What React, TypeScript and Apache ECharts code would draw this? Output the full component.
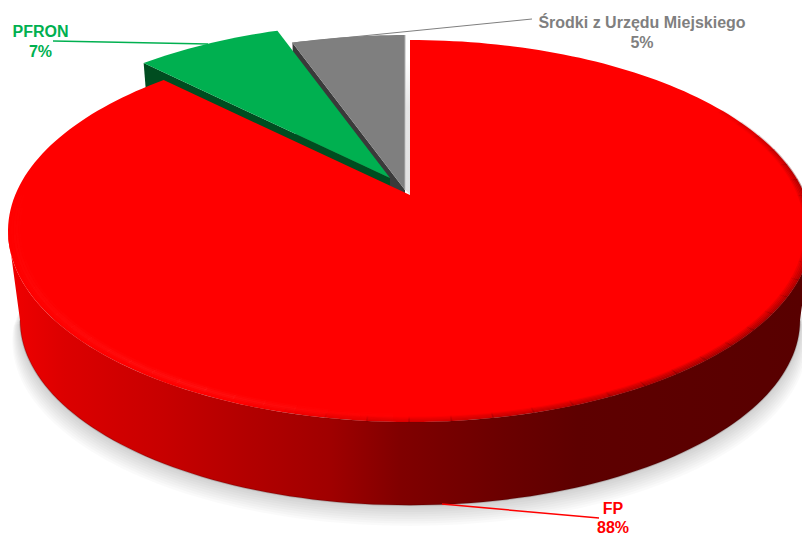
import React, { useEffect, useRef } from "react";
import * as echarts from "echarts";

const categories = ["FP", "PFRON", "Środki z Urzędu Miejskiego"];
const values = [87.5, 7.05, 5.45];
const topColors = ["#ff0000", "#00b050", "#7f7f7f"];
const faceColors = ["#600000", "#004d20", "#3a3a3a"];
const labelColors = ["#ff0000", "#00b050", "#7f7f7f"];

const W = 802;
const H = 534;
const PK = 0.1885;
const TOP = { cx: 410, cy: 195, rx: 394.8, ry: 184.2 };
const BOTTOM = { cx: 410, cy: 285, rx: 383, ry: 178.7 };
const EXPLODE = [[0, 0], [-20, -17], [-5, -5]];
const LABELS = [
  { x: 613, y: 508, y2: 527, line: [[442, 504], [599, 518]], lw: 1.5 },
  { x: 40.5, y: 31, y2: 51, line: [[53, 41], [208, 44]], lw: 1.5 },
  { x: 642, y: 22, y2: 42, line: [[292, 43], [532, 19]], lw: 1 },
];
const FONT = 'bold 16px "Liberation Sans", Arial, sans-serif';
const total = values.reduce((a, b) => a + b, 0);

type Plane = { cx: number; cy: number; rx: number; ry: number };
const rad = (d: number) => (d * Math.PI) / 180;

function project(deg: number, p: Plane, off = [0, 0], scale = 1): number[] {
  const x = Math.sin(rad(deg)) * scale;
  const y = -Math.cos(rad(deg)) * scale;
  const den = 1 - PK * y;
  return [p.cx + off[0] + (p.rx * x) / den, p.cy + off[1] + (p.ry * y) / den];
}

function arc(a: number, b: number, p: Plane, off = [0, 0], scale = 1): number[][] {
  const n = Math.max(2, Math.ceil(Math.abs(b - a) / 1.5));
  const pts: number[][] = [];
  for (let i = 0; i <= n; i++) pts.push(project(a + ((b - a) * i) / n, p, off, scale));
  return pts;
}

function hGrad(stops: [number, string][]) {
  return {
    type: "linear",
    x: 0,
    y: 0,
    x2: W,
    y2: 0,
    global: true,
    colorStops: stops.map(([offset, color]) => ({ offset, color })),
  };
}

const WALL = hGrad([
  [0.0, "#f40000"],
  [0.08, "#dc0000"],
  [0.2, "#c80000"],
  [0.3, "#b40000"],
  [0.41, "#a00000"],
  [0.5, "#800000"],
  [0.62, "#6c0000"],
  [0.72, "#5e0000"],
  [1, "#580000"],
]);

function renderItem(params: any, api: any) {
  const i = params.dataIndex;
  const v = api.value(0);
  let start = 0;
  for (let k = 0; k < i; k++) start += values[k];
  const a0 = (start / total) * 360;
  const a1 = a0 + (v / total) * 360;
  const off = EXPLODE[i];
  const base = 10 - i * 4;
  const children: any[] = [];
  const apex = [TOP.cx + off[0], TOP.cy + off[1]];
  const topPts = [apex, ...arc(a0, a1, TOP, off)];

  if (i === 0) {
    const lower = arc(101, 259, BOTTOM);
    const upper = arc(101, 259, TOP);
    for (let s = 1; s <= 9; s++) {
      const grown = arc(96, 264, BOTTOM).map(([x, y]) => [TOP.cx + (x - TOP.cx) * (1 + s * 0.0022), y + s * 2.3]);
      children.push({
        type: "polygon",
        z2: 0,
        shape: { points: [[TOP.cx, 250], ...grown] },
        style: { fill: "rgba(0,0,0,0.019)" },
      });
    }
    children.push({
      type: "polygon",
      z2: base,
      shape: { points: [...upper, ...lower.slice().reverse()] },
      style: { fill: WALL },
    });
    children.push({
      type: "polyline",
      z2: base + 0.1,
      shape: { points: lower },
      style: { fill: null, stroke: "rgba(50,0,0,0.22)", lineWidth: 1.5 },
    });
  } else {
    children.push({
      type: "polygon",
      z2: base,
      shape: {
        points: [project(a0, TOP, off), apex, [BOTTOM.cx + off[0], BOTTOM.cy + off[1]], project(a0, BOTTOM, off)],
      },
      style: { fill: faceColors[i] },
    });
  }

  children.push({
    type: "polygon",
    z2: base + 0.5,
    shape: { points: topPts },
    style: { fill: topColors[i] },
  });

  if (i === 0) {
    for (let t = 55; t < 198; t += 5) {
      const f = Math.min(1, (t - 55) / 35) * Math.min(1, (198 - t) / 60);
      for (let s = 0; s < 5; s++) {
        children.push({
          type: "polyline",
          z2: base + 0.6,
          shape: { points: arc(t, t + 5.2, TOP, [0, 0], 1 - s * 0.004) },
          style: {
            fill: null,
            lineWidth: 2,
            stroke: `rgba(110,0,0,${(f * (0.5 - s * 0.095)).toFixed(3)})`,
          },
        });
      }
    }
    for (let t = 178; t < 272; t += 4) {
      const f = t < 205 ? (t - 178) / 27 : (272 - t) / 67;
      [0.972, 0.978, 0.984, 0.99].forEach((sc, s) => {
        children.push({
          type: "polyline",
          z2: base + 0.7,
          shape: { points: arc(t, t + 4.2, TOP, [0, 0], sc) },
          style: {
            fill: null,
            lineWidth: 2.5,
            stroke: `rgba(255,80,80,${(f * [0.05, 0.12, 0.14, 0.05][s]).toFixed(3)})`,
          },
        });
      });
    }
  }

  if (i === 2) {
    const a = project(a1, TOP, off);
    children.push({
      type: "polyline",
      z2: base + 0.6,
      shape: { points: [a, apex] },
      style: { fill: null, stroke: "#b4b4b4", lineWidth: 1 },
    });
    children.push({
      type: "polygon",
      z2: base + 0.55,
      shape: { points: [[apex[0] + 0.5, 60], [TOP.cx, 60], [TOP.cx, TOP.cy], [apex[0] + 0.5, apex[1]]] },
      style: {
        fill: {
          type: "linear",
          x: 0,
          y: 0,
          x2: 0,
          y2: 1,
          colorStops: [
            { offset: 0, color: "#ffffff" },
            { offset: 0.35, color: "#e6e6e6" },
            { offset: 1, color: "#e2e2e2" },
          ],
        },
      },
    });
  }

  const lab = LABELS[i];
  children.push({
    type: "polyline",
    z2: 50,
    shape: { points: lab.line },
    style: { fill: null, stroke: labelColors[i], lineWidth: lab.lw },
  });
  const name = categories[i];
  children.push({
    type: "text",
    z2: 60,
    x: lab.x,
    y: lab.y,
    style: { text: name, fill: labelColors[i], font: FONT, align: "center", verticalAlign: "middle" },
  });
  children.push({
    type: "text",
    z2: 60,
    x: lab.x,
    y: lab.y2,
    style: {
      text: `${Math.round((v / total) * 100)}%`,
      fill: labelColors[i],
      font: FONT,
      align: "center",
      verticalAlign: "middle",
    },
  });
  return { type: "group", children };
}

export default function App() {
  const ref = useRef<HTMLDivElement>(null);
  useEffect(() => {
    document.body.style.margin = "0";
    const chart = echarts.init(ref.current!, null, { renderer: "svg" });
    chart.setOption({
      animation: false,
      backgroundColor: "#ffffff",
      series: [
        {
          type: "custom",
          coordinateSystem: "none",
          renderItem,
          silent: true,
          data: values.map((v, i) => ({ name: categories[i], value: [v] })),
        },
      ],
    });
    return () => chart.dispose();
  }, []);
  return <div ref={ref} style={{ width: W, height: H }} />;
}
